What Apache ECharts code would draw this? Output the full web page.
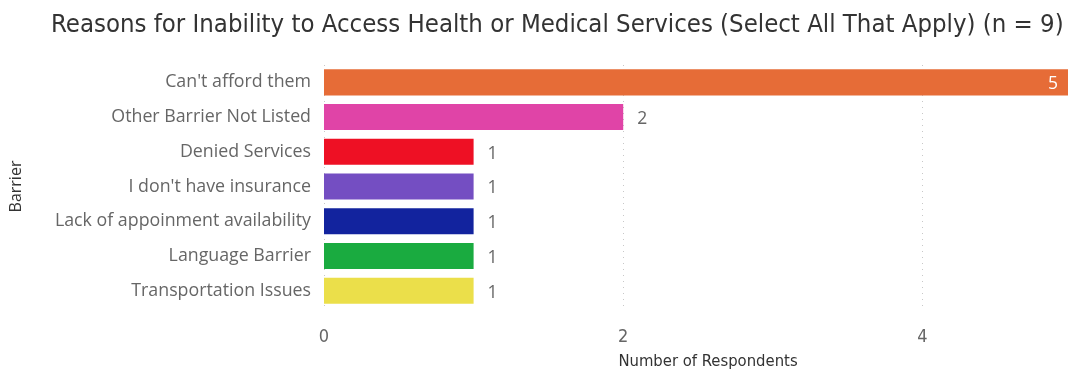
<!DOCTYPE html>
<html>
<head>
<meta charset="utf-8">
<script src="https://cdn.jsdelivr.net/npm/echarts@6/dist/echarts.min.js"></script>
<style>
  html, body { margin: 0; padding: 0; background: #fff; }
  #chart { width: 1068px; height: 370px; }
</style>
</head>
<body>
<div id="chart"></div>
<script>
// Barriers reported, top to bottom
const barriers = [
  "Can't afford them",
  "Other Barrier Not Listed",
  "Denied Services",
  "I don't have insurance",
  "Lack of appoinment availability",
  "Language Barrier",
  "Transportation Issues"
];
const respondents = [5, 2, 1, 1, 1, 1, 1];
const barColors = ['#E66C37', '#E044A7', '#EE1024', '#744EC2', '#12239E', '#1AAB40', '#EBDF4A'];
const xTicks = [0, 2, 4];

const labelFont = '"Open Sans", "Noto Sans", sans-serif';
const headFont = '"DejaVu Sans Condensed", "DejaVu Sans", sans-serif';

const chart = echarts.init(document.getElementById('chart'), null, { renderer: 'canvas' });

const seriesData = respondents.map((v, i) => {
  const item = { value: v, itemStyle: { color: barColors[i] } };
  if (v === Math.max(...respondents)) {
    item.label = { position: 'insideRight', color: '#ffffff', distance: 14 };
  }
  return item;
});

chart.setOption({
  animation: false,
  title: {
    text: 'Reasons for Inability to Access Health or Medical Services (Select All That Apply) (n = 9)',
    left: 46,
    top: 7,
    textStyle: { fontFamily: headFont, fontSize: 25.5, fontWeight: 'normal', color: '#333333' }
  },
  // the plot runs slightly past the right edge of the canvas
  grid: { left: 324, width: 748, top: 65, height: 243, outerBoundsMode: 'none', containLabel: false },
  xAxis: {
    type: 'value',
    min: 0,
    max: 5,
    interval: 2,
    name: 'Number of Respondents',
    nameLocation: 'middle',
    nameGap: 45,
    nameTextStyle: { fontFamily: headFont, fontSize: 16.5, color: '#333333', padding: [0, 0, 0, 20] },
    axisLine: { show: false },
    axisTick: { show: false },
    axisLabel: {
      fontFamily: headFont, fontSize: 18, color: '#666666', margin: 20,
      formatter: v => (xTicks.includes(v) ? String(v) : '')
    },
    splitLine: { show: true, lineStyle: { type: [1, 5], color: '#c8c8c8', width: 1 } }
  },
  yAxis: {
    type: 'category',
    data: barriers,
    inverse: true,
    name: 'Barrier',
    nameLocation: 'middle',
    nameGap: 300,
    nameRotate: 90,
    nameTextStyle: { fontFamily: labelFont, fontSize: 16, color: '#333333' },
    axisLine: { show: false },
    axisTick: { show: false },
    axisLabel: { fontFamily: labelFont, fontSize: 17.8, color: '#666666', margin: 13, padding: [4, 0, 0, 0] }
  },
  series: [{
    type: 'bar',
    data: seriesData,
    barCategoryGap: '25%',
    label: {
      show: true,
      position: 'right',
      distance: 14,
      offset: [0, 2],
      fontFamily: labelFont,
      fontSize: 17.5,
      color: '#666666'
    }
  }]
});
</script>
</body>
</html>
